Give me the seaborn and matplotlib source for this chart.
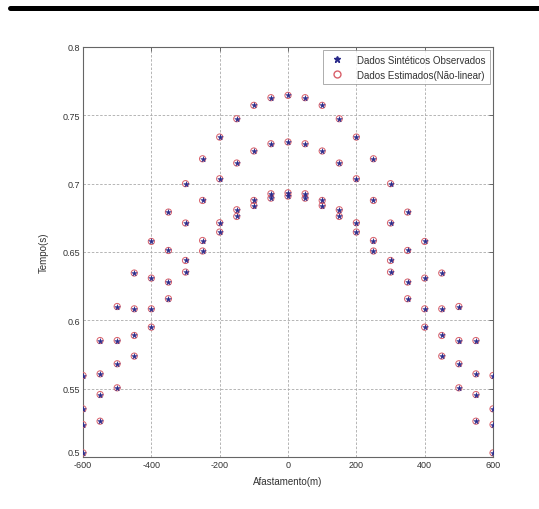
import numpy as np
import pandas as pd
import matplotlib
matplotlib.use("Agg")
import matplotlib.pyplot as plt
import matplotlib.transforms as mtransforms
import seaborn as sns
from matplotlib.lines import Line2D

# offsets (m)
offsets = [-600, -550, -500, -450, -400, -350, -300, -250, -200, -150, -100, -50,
           0, 50, 100, 150, 200, 250, 300, 350, 400, 450, 500, 550, 600]

# travel times (s) for each event
event1 = [0.5596, 0.5852, 0.6101, 0.6346, 0.6577, 0.6792, 0.7000, 0.7182, 0.7341, 0.7475, 0.7573, 0.7629,
          0.7646, 0.7629, 0.7573, 0.7475, 0.7341, 0.7182, 0.7000, 0.6792, 0.6577, 0.6346, 0.6101, 0.5852, 0.5596]
event2 = [0.5352, 0.5608, 0.5852, 0.6084, 0.6309, 0.6511, 0.6712, 0.6877, 0.7036, 0.7151, 0.7239, 0.7292,
          0.7305, 0.7292, 0.7239, 0.7151, 0.7036, 0.6877, 0.6712, 0.6511, 0.6309, 0.6084, 0.5852, 0.5608, 0.5352]
event3 = [0.5237, 0.5457, 0.5682, 0.5889, 0.6084, 0.6280, 0.6438, 0.6584, 0.6714, 0.6809, 0.6877, 0.6926,
          0.6933, 0.6926, 0.6877, 0.6809, 0.6714, 0.6584, 0.6438, 0.6280, 0.6084, 0.5889, 0.5682, 0.5457, 0.5237]
event4 = [0.5030, 0.5262, 0.5506, 0.5738, 0.5950, 0.6158, 0.6353, 0.6507, 0.6646, 0.6760, 0.6840, 0.6894,
          0.6909, 0.6894, 0.6840, 0.6760, 0.6646, 0.6507, 0.6353, 0.6158, 0.5950, 0.5738, 0.5506, 0.5262, 0.5030]

xticks = [-600, -400, -200, 0, 200, 400, 600]
yticks = [0.5, 0.55, 0.6, 0.65, 0.7, 0.75, 0.8]
ytick_labels = ["0.5", "0.55", "0.6", "0.65", "0.7", "0.75", "0.8"]

label_obs = "Dados Sintéticos Observados"
label_est = "Dados Estimados(Não-linear)"

sns.set_style("white")
plt.rcParams['font.family'] = ['Liberation Sans', 'DejaVu Sans']

df = pd.DataFrame({
    "x": offsets * 4,
    "t": event1 + event2 + event3 + event4,
})

fig = plt.figure(figsize=(5.39, 5.10), dpi=100)
ax = fig.add_axes([0.154, 0.102, 0.7607, 0.8039])

txt = "#333333"
red = "#d9606a"
blue = "#2a2a8a"
sns.scatterplot(data=df, x="x", y="t", ax=ax, marker="o", s=20,
                facecolors="none", edgecolor=red, linewidth=0.7, zorder=3)
sns.scatterplot(data=df, x="x", y="t", ax=ax, marker="*", s=18,
                color=blue, edgecolor=blue, linewidth=0.3, zorder=4)

ax.set_xlim(-600, 600)
ax.set_ylim(0.5, 0.8)
ax.set_xticks(xticks)
ax.set_xticklabels([str(v) for v in xticks])
ax.set_yticks(yticks)
ax.set_yticklabels(ytick_labels)
ax.tick_params(direction="in", length=3, width=0.6, labelsize=6.5, colors="#555555",
               labelcolor=txt, top=True, right=True, pad=2)
ax.grid(True, linestyle=(0, (3, 2)), color="#aaaaaa", linewidth=0.6)
for s in ax.spines.values():
    s.set_color("#666666")
    s.set_linewidth(0.8)

# nudge the lowest y label up so it does not collide with the first x label
lbl = ax.get_yticklabels()[0]
lbl.set_transform(lbl.get_transform() + mtransforms.ScaledTranslation(0, 4 / 72, fig.dpi_scale_trans))

ax.set_xlabel("Afastamento(m)", fontsize=7, color=txt, labelpad=5)
ax.set_ylabel("Tempo(s)", fontsize=7, color=txt, labelpad=10)

handles = [
    Line2D([], [], marker="*", linestyle="none", color=blue, markersize=4.5),
    Line2D([], [], marker="o", linestyle="none", markerfacecolor="none",
           markeredgecolor=red, markersize=5),
]
leg = ax.legend(handles, [label_obs, label_est], loc="upper right", fontsize=7,
                frameon=True, fancybox=False, edgecolor="#888888", borderpad=0.5,
                handletextpad=1.0, borderaxespad=0.3, labelcolor=txt, labelspacing=0.5)
leg.get_frame().set_linewidth(0.6)

# thick black rule at the top of the page
fig.add_artist(Line2D([10 / 539, 1.0], [1 - 9 / 510, 1 - 9 / 510],
                      transform=fig.transFigure, color="black", linewidth=3.6))

fig.savefig("out.png", dpi=100, facecolor="white")
